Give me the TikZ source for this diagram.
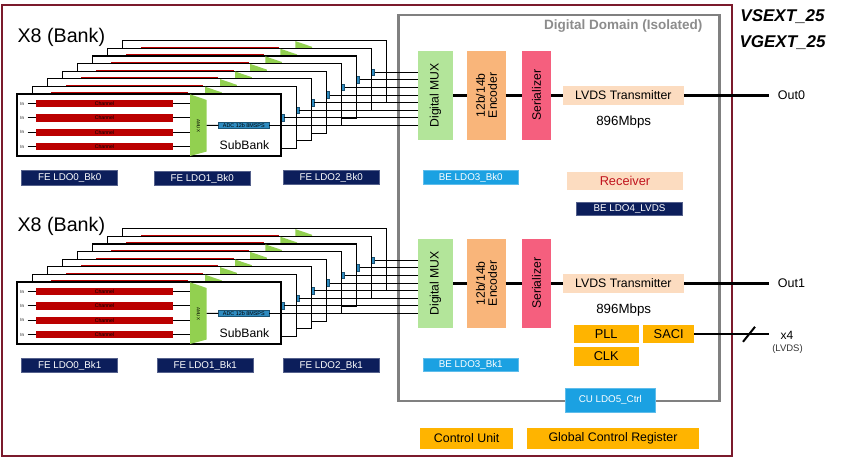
\documentclass[tikz,border=0pt]{standalone}
\usepackage{fontspec}
\setmainfont{Liberation Sans}
\usetikzlibrary{calc}
\definecolor{cMaroon}{HTML}{7B1A2C}
\definecolor{cGray}{HTML}{808080}
\definecolor{cGrayT}{HTML}{8C8C8C}
\definecolor{cNavy}{HTML}{0C1E5B}
\definecolor{cCyan}{HTML}{1BA1E2}
\definecolor{cPeach}{HTML}{FCDCC0}
\definecolor{cGold}{HTML}{FFB400}
\definecolor{cMux}{HTML}{B3E59A}
\definecolor{cEnc}{HTML}{F9B57A}
\definecolor{cSer}{HTML}{F55F7E}
\definecolor{cRecv}{HTML}{C0141E}
\definecolor{cChan}{HTML}{BB0000}
\definecolor{cAmux}{HTML}{92D050}
\definecolor{cAdc}{HTML}{2E8BC0}
\newcommand\fsz[1]{\fontsize{#1}{#1}\selectfont}
\newcommand\cbox[7]{\node[#2, minimum width={(#5)-(#3)}, minimum height={(#6)-(#4)}] (#1) at ({((#3)+(#5))/2},{((#4)+(#6))/2}) {#7};}
\newcommand\onlyfront[1]{\ifnum\k=0 #1\fi}
\newcommand\drawbank[2]{%
\foreach \k in {7,6,...,0}{
 \begin{scope}[shift={(15.05*\k,#1-7.6*\k)}]
  \draw[sbframe] (17,94) rectangle (281,156);
  \foreach \c [count=\i] in {103.6,117.9,132.2,146.5}{
    \node[intext] (in#2\k\i) at (22.3,\c) {In};
    \cbox{ch#2\k\i}{blk,fill=cChan,font=\fsz{5.2}}{35.7}{\c-3.6}{173.3}{\c+3.6}{Channel}
    \coordinate (ie#2\k\i) at (27.5,\c);
    \coordinate (am#2\k\i) at (190,\c);
    \draw[thinw] (ie#2\k\i) -- (ch#2\k\i.west);
    \draw[thinw] (ch#2\k\i.east) -- (am#2\k\i);
  }
  \fill[cAmux] (190,94.3) -- (206.7,100) -- (206.7,151.5) -- (190,156) -- cycle;
  \node[rotate=-90,font=\fsz{4.5},inner sep=0] (amx#2\k) at (198.3,125.5) {AMUX};
  \cbox{adc#2\k}{blk,fill=cAdc,draw=cAdc!60!black,line width=0.5,font=\fsz{5.4}}{218.3}{122}{269.3}{128.7}{ADC 12b 8MSPS}
  \coordinate (amo#2\k) at (206.7,125.35);
  \draw[thinw] (amo#2\k) -- (adc#2\k.west);
  \node[font=\fsz{12.2}] (sb#2\k) at (244.5,145.5) {\onlyfront{SubBank}};
  \draw[thinw] (adc#2\k.east) -- (adc#2\k.east -| mux#2.west);
 \end{scope}
}}
\newcommand\digitalchain[3]{%
 \begin{scope}[shift={(0,#1)}]
 \cbox{mux#2}{blk,fill=cMux}{417.7}{50.8}{453.3}{139.8}{}
 \node[rotate=90,font=\fsz{12.2}] (muxT#2) at (mux#2) {Digital MUX};
 \cbox{enc#2}{blk,fill=cEnc}{467.3}{50.8}{505.7}{139.8}{}
 \node[rotate=90,font=\fsz{12.2},align=center] (encT#2) at (enc#2) {\fontsize{12.2}{13.5}\selectfont 12b/14b\\Encoder};
 \cbox{ser#2}{blk,fill=cSer}{522}{50.8}{551}{139.8}{}
 \node[rotate=90,font=\fsz{12.2}] (serT#2) at (ser#2) {Serializer};
 \cbox{lvds#2}{blk,fill=cPeach,font=\fsz{12.3}}{562.7}{86.1}{684}{104.5}{LVDS Transmitter}
 \node[font=\fsz{13.3}] (rate#2) at (623.7,122) {896Mbps};
 \node[anchor=west,font=\fsz{12.5},inner sep=0] (out#2) at (777.7,95.5) {#3};
 \coordinate (oe#2) at (769.3,95.3);
 \draw[dataline] (mux#2.east) -- (enc#2.west);
 \draw[dataline] (enc#2.east) -- (ser#2.west);
 \draw[dataline] (ser#2.east) -- (lvds#2.west);
 \draw[dataline] (lvds#2.east) -- (oe#2);
 \end{scope}
}
\begin{document}
\begin{tikzpicture}[x=1pt,y=-1pt,
  blk/.style={inner sep=0,outer sep=0,align=center},
  sbframe/.style={draw=black,fill=white,line width=1.1},
  thinw/.style={draw=black,line width=0.9},
  dataline/.style={draw=black,line width=2.5},
  intext/.style={font=\fsz{4.5},inner sep=0.5},
  navybox/.style={blk,fill=cNavy,draw=cNavy!70!white,line width=0.6,text=white,font=\fsz{9.8}},
  cyanbox/.style={blk,fill=cCyan,draw=cCyan!70!white,line width=0.6,text=white,font=\fsz{9.8}},
  goldbox/.style={blk,fill=cGold,font=\fsz{12.8}}]
\useasboundingbox (0,0) rectangle (843,459);
\fill[white] (0,0) rectangle (843,459);
% borders
\draw[cMaroon,line width=2] (2,5) rectangle (732,456);
\draw[cGray,line width=2.5] (398.3,15) rectangle (719.3,401);
\node[anchor=east,text=cGrayT,font=\fsz{13.5}\bfseries] (dd) at (706,26) {Digital Domain (Isolated)};
\node[font=\fsz{17}\bfseries\itshape] (vs) at (782.5,16.7) {VSEXT\_25};
\node[font=\fsz{17}\bfseries\itshape] (vg) at (782.5,42.7) {VGEXT\_25};
% digital chains
\digitalchain{0}{A}{Out0}
\digitalchain{188}{B}{Out1}
% banks
\node[anchor=west,font=\fsz{19.7},inner sep=0] (x8A) at (17.3,37.5) {X8 (Bank)};
\node[anchor=west,font=\fsz{19.7},inner sep=0] (x8B) at (17.3,226) {X8 (Bank)};
\drawbank{0}{A}
\drawbank{188}{B}
% FE LDOs
\cbox{fe0A}{navybox}{21.7}{170.7}{117.7}{185}{FE LDO0\_Bk0}
\cbox{fe1A}{navybox}{154.3}{171.5}{250}{185.7}{FE LDO1\_Bk0}
\cbox{fe2A}{navybox}{283.3}{170.5}{379.3}{184.5}{FE LDO2\_Bk0}
\cbox{fe0B}{navybox}{21.7}{358.3}{117.7}{372.7}{FE LDO0\_Bk1}
\cbox{fe1B}{navybox}{157.3}{358.3}{253.3}{372.7}{FE LDO1\_Bk1}
\cbox{fe2B}{navybox}{283.3}{358.3}{379.3}{372.7}{FE LDO2\_Bk1}
% BE LDOs etc
\cbox{be3A}{cyanbox}{423.3}{170.7}{518.3}{184.3}{BE LDO3\_Bk0}
\cbox{be3B}{cyanbox}{423.3}{358.5}{518.3}{371.5}{BE LDO3\_Bk1}
\cbox{recv}{blk,fill=cPeach,text=cRecv,font=\fsz{12.8}}{567.3}{172.3}{682.7}{190.3}{Receiver}
\cbox{be4}{navybox}{576.7}{202}{682.3}{215.7}{BE LDO4\_LVDS}
\cbox{pll}{goldbox}{573.7}{325}{638.7}{343.3}{PLL}
\cbox{saci}{goldbox}{643.3}{325}{694}{343.3}{SACI}
\cbox{clk}{goldbox}{573.7}{347}{638.7}{365.7}{CLK}
\cbox{cu5}{cyanbox}{565.7}{388.7}{655}{412}{CU LDO5\_Ctrl}
\cbox{cunit}{goldbox,font=\fsz{12.4}}{420}{428.3}{513.3}{448.7}{Control Unit}
\cbox{gcr}{goldbox,font=\fsz{12.4}}{526.7}{428.3}{699.3}{448.7}{Global Control Register}
% SACI link
\node[font=\fsz{12},inner sep=0] (x4) at (787,335) {x4};
\node[font=\fsz{9.5},text=black!80,inner sep=0] (lvdsn) at (787.5,349) {(LVDS)};
\coordinate (x4e) at (769,334.3);
\draw[dataline,line width=2] (saci.east |- x4e) -- (x4e) coordinate[pos=0.733] (sl);
\draw[line width=2] ([shift={(-6,7.5)}]sl) -- ([shift={(6,-7.5)}]sl);
\end{tikzpicture}
\end{document}
